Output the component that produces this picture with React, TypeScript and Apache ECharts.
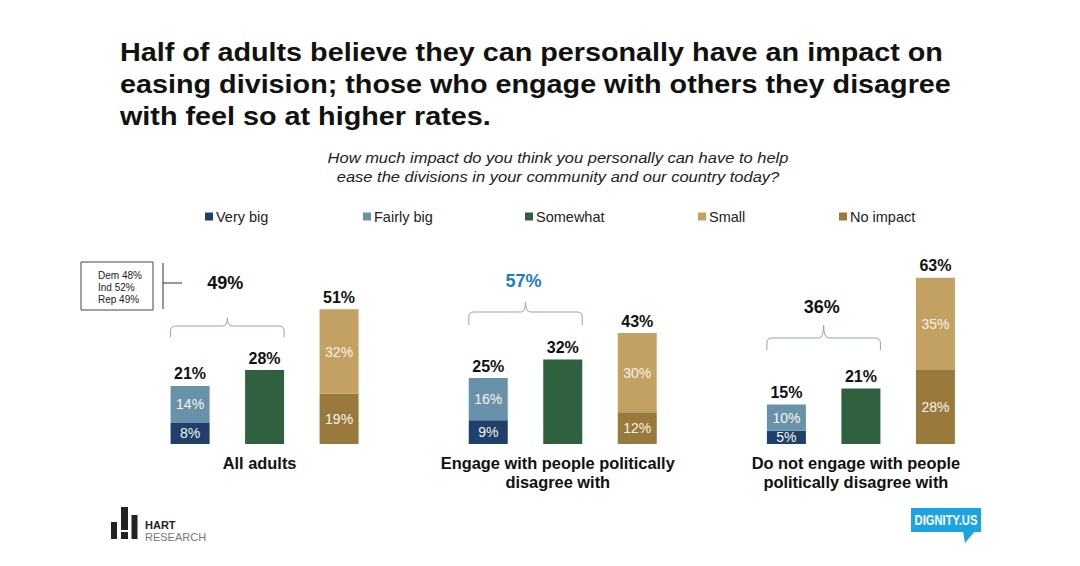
import React, { useEffect, useRef } from "react";
import * as echarts from "echarts";

// Survey groups and answer shares (percent)
const categories = [
  "All adults",
  "Engage with people politically\ndisagree with",
  "Do not engage with people\npolitically disagree with",
];
const veryBig = [8, 9, 5];
const fairlyBig = [14, 16, 10];
const somewhat = [28, 32, 21];
const small = [32, 30, 35];
const noImpact = [19, 12, 28];
// Net figures printed above the stacked bars
const bigTotals = [21, 25, 15];
const smallTotals = [51, 43, 63];
// Very big + Fairly big + Somewhat, shown over each brace
const anyImpact = [49, 57, 36];
const partyBreakdown = ["Dem 48%", "Ind 52%", "Rep 49%"];

const FONT = "'Liberation Sans', Arial, Helvetica, sans-serif";
const COLORS = {
  veryBig: "#1f3f6c",
  fairlyBig: "#6892a9",
  somewhat: "#2f6140",
  small: "#c3a163",
  noImpact: "#9a7a3c",
};

// plot area geometry
const GRID_LEFT = 115.5;
const GRID_RIGHT = 70;
const GRID_TOP = 180;
const GRID_HEIGHT = 264;
const BAND = (1080 - GRID_LEFT - GRID_RIGHT) / categories.length;
const BAR_W = 39;
const BAR_STEP = 74.5;

// brace layout per group (pixel rows)
const braceLine = [326, 312, 338];
const bracePeak = [318, 302, 325];
const braceEnd = [337, 325, 350];
const braceLabelY = [283, 281, 307];
const braceLabelColor = ["#111111", "#1f7cc2", "#111111"];

const centerX = (i: number) => GRID_LEFT + BAND * (i + 0.5);
const braceL = (i: number) => centerX(i) - BAR_STEP - BAR_W / 2;
const braceR = (i: number) => centerX(i) + BAR_W / 2;

function bracePath(i: number) {
  const L = braceL(i);
  const R = braceR(i);
  const C = (L + R) / 2;
  const Y = braceLine[i];
  const P = bracePeak[i];
  const E = braceEnd[i];
  const r = 5;
  return (
    `M${L} ${E} L${L} ${Y + r} Q${L} ${Y} ${L + r} ${Y} L${C - r} ${Y} ` +
    `Q${C} ${Y} ${C} ${P} Q${C} ${Y} ${C + r} ${Y} L${R - r} ${Y} ` +
    `Q${R} ${Y} ${R} ${Y + r} L${R} ${E}`
  );
}

categories.forEach((_, i) => {
  echarts.graphic.registerShape(
    "brace" + i,
    echarts.graphic.extendPath(bracePath(i), {})
  );
});

const insideLabel = {
  show: true,
  position: "inside",
  color: "#f8f4ea",
  fontSize: 14,
  fontFamily: FONT,
  formatter: "{c}%",
};

const totalLabel = (totals: number[]) => ({
  show: true,
  position: "top",
  distance: 4,
  color: "#111",
  fontSize: 16,
  fontWeight: "bold",
  fontFamily: FONT,
  formatter: (p: any) => totals[p.dataIndex] + "%",
});

const legendItem = (name: string, left: number) => ({
  data: [name],
  left,
  top: 209,
  icon: "rect",
  itemWidth: 8,
  itemHeight: 8,
  itemGap: 0,
  padding: 0,
  selectedMode: false,
  textStyle: { fontSize: 14.5, color: "#222", fontFamily: FONT, padding: [0, 0, 0, -2] },
});

export default function App() {
  const ref = useRef<HTMLDivElement>(null);

  useEffect(() => {
    if (!ref.current) return;
    const chart = echarts.init(ref.current, undefined, { renderer: "svg" });

    const barCommon = {
      type: "bar",
      barWidth: BAR_W,
      barGap: ((BAR_STEP - BAR_W) / BAR_W) * 100 + "%",
    };

    const braces: any[] = categories.map((_, i) => ({
      type: "brace" + i,
      silent: true,
      style: { fill: "none", stroke: "#8ea3bc", lineWidth: 1 },
    }));
    const braceLabels: any[] = categories.map((_, i) => ({
      type: "text",
      x: (braceL(i) + braceR(i)) / 2 - 2,
      y: braceLabelY[i],
      style: {
        text: anyImpact[i] + "%",
        fill: braceLabelColor[i],
        font: `bold 18px ${FONT}`,
        textAlign: "center",
        textVerticalAlign: "middle",
      },
    }));

    chart.setOption({
      animation: false,
      backgroundColor: "#ffffff",
      grid: {
        left: GRID_LEFT,
        right: GRID_RIGHT,
        top: GRID_TOP,
        height: GRID_HEIGHT,
        containLabel: false,
      },
      legend: [
        legendItem("Very big", 205),
        legendItem("Fairly big", 363),
        legendItem("Somewhat", 525),
        legendItem("Small", 698),
        legendItem("No impact", 839),
      ],
      xAxis: {
        type: "category",
        data: categories,
        axisLine: { show: false },
        axisTick: { show: false },
        axisLabel: {
          interval: 0,
          hideOverlap: false,
          margin: 9,
          color: "#111",
          fontSize: 16.4,
          fontWeight: "bold",
          fontFamily: FONT,
          lineHeight: 19,
          padding: [0, 10, 0, 0],
        },
      },
      yAxis: {
        type: "value",
        min: 0,
        max: 100,
        show: false,
        splitLine: { show: false },
      },
      series: [
        {
          ...barCommon,
          name: "Very big",
          stack: "big",
          data: veryBig,
          itemStyle: { color: COLORS.veryBig },
          label: insideLabel,
        },
        {
          ...barCommon,
          name: "Fairly big",
          stack: "big",
          data: fairlyBig,
          itemStyle: { color: COLORS.fairlyBig },
          label: insideLabel,
        },
        {
          ...barCommon,
          name: "big total",
          stack: "big",
          data: bigTotals.map(() => 0),
          itemStyle: { color: "transparent" },
          label: totalLabel(bigTotals),
        },
        {
          ...barCommon,
          name: "Somewhat",
          stack: "some",
          data: somewhat,
          itemStyle: { color: COLORS.somewhat },
          label: totalLabel(somewhat),
        },
        {
          ...barCommon,
          name: "No impact",
          stack: "small",
          data: noImpact,
          itemStyle: { color: COLORS.noImpact },
          label: insideLabel,
        },
        {
          ...barCommon,
          name: "Small",
          stack: "small",
          data: small,
          itemStyle: { color: COLORS.small },
          label: insideLabel,
        },
        {
          ...barCommon,
          name: "small total",
          stack: "small",
          data: smallTotals.map(() => 0),
          itemStyle: { color: "transparent" },
          label: totalLabel(smallTotals),
        },
      ],
      graphic: [
        // headline
        {
          type: "text",
          x: 120,
          y: 36,
          scaleX: 1.128,
          style: {
            text:
              "Half of adults believe they can personally have an impact on\n" +
              "easing division; those who engage with others they disagree\n" +
              "with feel so at higher rates.",
            font: `bold 25.5px ${FONT}`,
            lineHeight: 32,
            fill: "#111",
          },
        },
        // question wording
        {
          type: "text",
          x: 558,
          y: 148,
          scaleX: 1.1,
          style: {
            text:
              "How much impact do you think you personally can have to help\n" +
              "ease the divisions in your community and our country today?",
            font: `italic 15px ${FONT}`,
            lineHeight: 19,
            fill: "#222",
            textAlign: "center",
          },
        },
        ...braces,
        ...braceLabels,
        // party breakdown call-out
        {
          type: "rect",
          shape: { x: 81, y: 262, width: 72, height: 48 },
          style: { fill: "#fff", stroke: "#444", lineWidth: 1 },
        },
        {
          type: "text",
          x: 98,
          y: 269,
          style: {
            text: partyBreakdown.join("\n"),
            font: `10px ${FONT}`,
            lineHeight: 12,
            fill: "#222",
          },
        },
        {
          type: "line",
          shape: { x1: 163, y1: 263, x2: 163, y2: 309 },
          style: { stroke: "#333", lineWidth: 1 },
        },
        {
          type: "line",
          shape: { x1: 163, y1: 283, x2: 182, y2: 283 },
          style: { stroke: "#333", lineWidth: 1 },
        },
        // Hart Research mark
        {
          type: "group",
          children: [
            { type: "rect", shape: { x: 111, y: 522, width: 6, height: 17 }, style: { fill: "#222" } },
            { type: "rect", shape: { x: 121, y: 507, width: 7, height: 23 }, style: { fill: "#222" } },
            { type: "rect", shape: { x: 121, y: 532, width: 7, height: 7 }, style: { fill: "#222" } },
            { type: "rect", shape: { x: 131.5, y: 515, width: 6, height: 24 }, style: { fill: "#222" } },
            {
              type: "text",
              x: 145,
              y: 524.5,
              style: {
                text: "HART",
                font: `600 11px ${FONT}`,
                fill: "#222",
                textVerticalAlign: "middle",
              },
            },
            {
              type: "text",
              x: 145,
              y: 536.5,
              style: {
                text: "RESEARCH",
                font: `11px ${FONT}`,
                fill: "#777",
                textVerticalAlign: "middle",
              },
            },
          ],
        },
        // Dignity.us mark
        {
          type: "group",
          children: [
            { type: "rect", shape: { x: 911, y: 508, width: 70, height: 24 }, style: { fill: "#1ba3e2" } },
            {
              type: "polygon",
              shape: { points: [[963, 531], [975, 531], [965, 543]] },
              style: { fill: "#1ba3e2" },
            },
            {
              type: "text",
              x: 946,
              y: 520.5,
              scaleX: 0.8,
              style: {
                text: "DIGNITY.US",
                font: `bold 14px ${FONT}`,
                fill: "#ffffff",
                textAlign: "center",
                textVerticalAlign: "middle",
              },
            },
          ],
        },
      ],
    });

    return () => chart.dispose();
  }, []);

  return (
    <div
      ref={ref}
      style={{ position: "absolute", left: 0, top: 0, width: 1080, height: 566, background: "#fff" }}
    />
  );
}
